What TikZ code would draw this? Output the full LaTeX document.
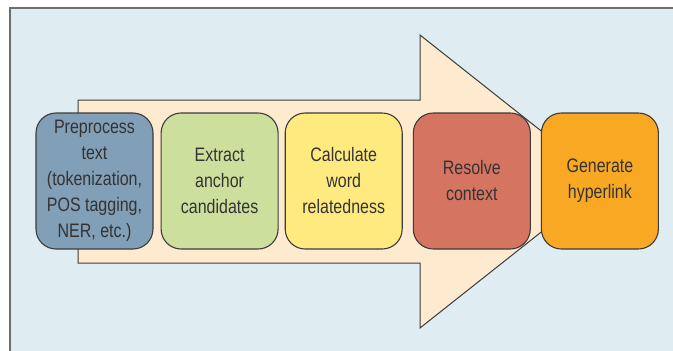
\documentclass[tikz,border=0pt]{standalone}
\usepackage{fontspec}
\setmainfont{Liberation Sans}[FakeStretch=0.82]
\usetikzlibrary{positioning}

\definecolor{bgblue}{HTML}{DFECF2}
\definecolor{framegray}{HTML}{6E6E6E}
\definecolor{arrowfill}{HTML}{FEEACF}
\definecolor{linegray}{HTML}{3C3C3C}
\definecolor{textgray}{HTML}{333333}
\definecolor{stepblue}{HTML}{819FB6}
\definecolor{stepgreen}{HTML}{CCDF9C}
\definecolor{stepyellow}{HTML}{FFEA80}
\definecolor{stepred}{HTML}{D57461}
\definecolor{steporange}{HTML}{F9A823}

\tikzset{
  stepbox/.style={draw=linegray, line width=1.1pt, rounded corners=20pt,
    minimum width=117pt, minimum height=136pt, inner sep=0pt,
    align=center, text=textgray,
    font=\fontsize{19.5}{26}\selectfont},
}

\begin{document}
\begin{tikzpicture}[x=1pt,y=-1pt]
\useasboundingbox (0,0) rectangle (673,351);
\clip (0,0) rectangle (673,351);
% background panel
\draw [fill=bgblue, draw=framegray, line width=1.5pt] (10,8) rectangle (690,370);
%% big arrow
\draw [fill=arrowfill, draw=linegray, line width=1pt]
  (78,100) -- (420,100) -- (420,35) -- (605,181.5) -- (420,328)
  -- (420,263) -- (78,263) -- cycle;
%% steps
\node [stepbox, fill=stepblue] (prep) at (94.5,181)
  {Preprocess\\text\\(tokenization,\\POS tagging,\\NER, etc.)};
\node [stepbox, fill=stepgreen, right=7pt of prep] (extract)
  {Extract\\anchor\\candidates};
\node [stepbox, fill=stepyellow, right=6pt of extract] (calc)
  {Calculate\\word\\relatedness};
\node [stepbox, fill=stepred, right=10pt of calc] (resolve)
  {Resolve\\context};
\node [stepbox, fill=steporange, right=10pt of resolve] (gen)
  {Generate\\hyperlink};

\end{tikzpicture}
\end{document}
